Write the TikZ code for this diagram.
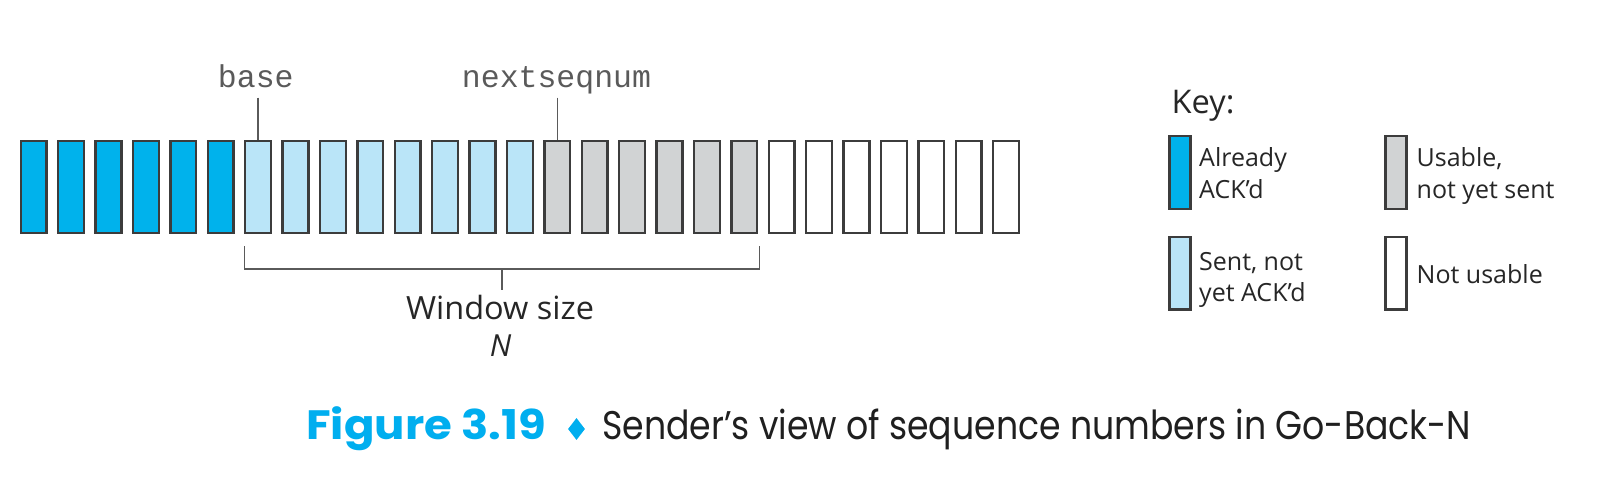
\documentclass[tikz,border=0pt]{standalone}
\usepackage{fontspec}
\usepackage{graphicx}
\setmainfont{Open Sans}
\newfontfamily\monof{Liberation Mono}
\newfontfamily\capf{Poppins}
\newfontfamily\capbf{Poppins}[UprightFont={* Bold}]
\usetikzlibrary{shapes.geometric}
\definecolor{ackd}{RGB}{0,178,236}
\definecolor{sentc}{RGB}{186,229,248}
\definecolor{usec}{RGB}{209,211,212}
\definecolor{edgec}{RGB}{60,60,60}
\definecolor{linec}{RGB}{90,90,90}
\definecolor{capblue}{RGB}{0,174,239}
\newcommand{\fitw}[2]{\resizebox{#1}{\height}{#2}}
\tikzset{
  seqbox/.style={draw=edgec, line width=2.4pt, minimum width=25.8pt, minimum height=91.8pt, inner sep=0pt},
  keybox/.style={draw=edgec, line width=2.4pt, minimum width=21pt, minimum height=72.5pt, inner sep=0pt},
  ackbox/.style={fill=ackd},
  sentbox/.style={fill=sentc},
  usebox/.style={fill=usec},
  freebox/.style={fill=white},
  pointer/.style={draw=linec, line width=1.6pt},
  monolabel/.style={inner sep=0pt, anchor=base, text=linec, font=\monof\fontsize{31.5}{31.5}\selectfont},
  keytext/.style={inner sep=0pt, anchor=base west, text=black!85, font=\fontsize{25}{25}\selectfont},
}
\begin{document}
\begin{tikzpicture}[x=1pt, y=-1pt]
\useasboundingbox[fill=white] (0,0) rectangle (1620,484);
% sequence boxes
\foreach \i in {0,...,26}{
  \ifnum\i<6 \def\st{ackbox}\else
  \ifnum\i<14 \def\st{sentbox}\else
  \ifnum\i<20 \def\st{usebox}\else \def\st{freebox}\fi\fi\fi
  \node[seqbox, \st] (b\i) at ({33.75+37.4*\i}, 187.15) {};
}
% pointer labels
\node[monolabel] (base) at (255.8, 88) {base};
\node[monolabel] (nsn) at (556.5, 88) {nextseqnum};
\coordinate (basetop) at (b6.north |- 0,97.7);
\coordinate (nsntop) at (b14.north |- 0,97.7);
\draw[pointer] (basetop) -- (b6.north);
\draw[pointer] (nsntop) -- (b14.north);
% window bracket
\coordinate (brl) at (244.5, 246);
\coordinate (brr) at (759.5, 246);
\coordinate (brm) at (502, 269);
\draw[pointer] (brl) -- (brl |- brm) -- (brr |- brm) -- (brr);
\draw[pointer] (brm) -- ++(0, 21);
\node[inner sep=0pt, anchor=base, text=black!85, font=\fontsize{32}{32}\selectfont] (ws) at (500, 319.3) {\fitw{188pt}{Window size}};
\node[inner sep=0pt, anchor=base, text=black!85, font=\itshape\fontsize{30.4}{30.4}\selectfont] (nn) at (500.5, 356.7) {N};
% key
\node[inner sep=0pt, anchor=base west, text=black!85, font=\fontsize{32.6}{32.6}\selectfont] (key) at (1171.5, 113.3) {Key:};
\node[keybox, ackbox] (k1) at (1180, 172.5) {};
\node[keybox, usebox] (k2) at (1395.8, 172.5) {};
\node[keybox, sentbox] (k3) at (1180, 273.3) {};
\node[keybox, freebox] (k4) at (1395.8, 273.3) {};
\node[keytext] (t1a) at (1199, 166.7) {Already};
\node[keytext] (t1b) at (1199, 198.3) {ACK’d};
\node[keytext] (t2a) at (1416.5, 166.7) {Usable,};
\node[keytext] (t2b) at (1416.5, 198.3) {not yet sent};
\node[keytext] (t3a) at (1199, 270) {Sent, not};
\node[keytext] (t3b) at (1199, 301.5) {yet ACK’d};
\node[keytext] (t4a) at (1416.5, 283.3) {Not usable};
% caption
\node[inner sep=0pt, anchor=base west, text=capblue, font=\capbf\fontsize{41}{41}\selectfont] (fig) at (306, 439) {\fitw{240pt}{Figure 3.19}};
\node[diamond, fill=capblue, inner sep=0pt, minimum width=17pt, minimum height=22pt] (dia) at (576.5, 429) {};
\node[inner sep=0pt, anchor=base west, text=black!88, font=\capf\fontsize{40}{40}\selectfont] (cap) at (602, 439) {\fitw{869pt}{Sender’s view of sequence numbers in Go-Back-N}};
\end{tikzpicture}
\end{document}
